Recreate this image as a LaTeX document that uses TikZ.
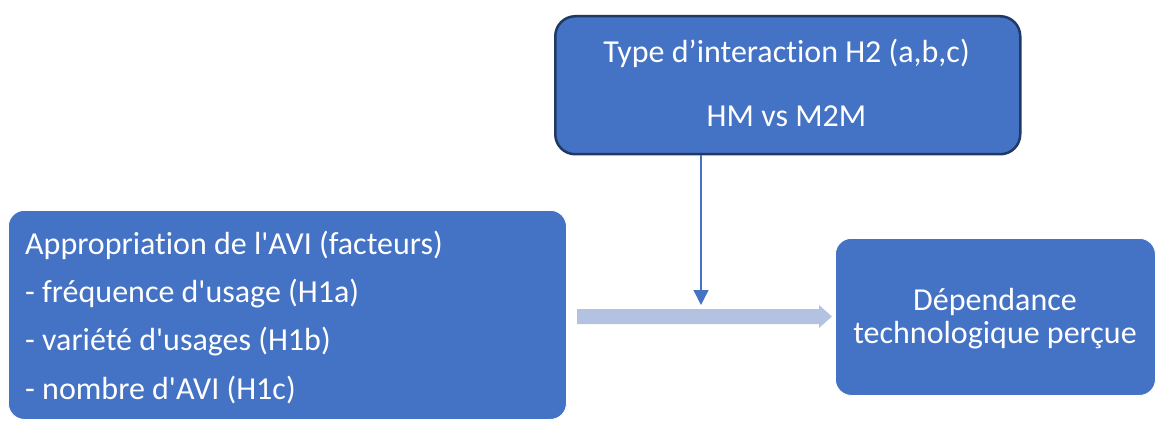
\documentclass[tikz,border=0pt]{standalone}
\usepackage{fontspec}
\setmainfont{Carlito}[Ligatures=TeXOff,RawFeature={-liga;-clig;-calt}]
\usetikzlibrary{arrows.meta,calc}
\definecolor{boxblue}{HTML}{4472C4}
\definecolor{boxedge}{HTML}{203864}
\definecolor{flowgrey}{HTML}{B4C2E2}
\begin{document}
\begin{tikzpicture}[x=1pt,y=-1pt,
  box/.style={fill=boxblue,draw=white,line width=0.8pt,rounded corners=16pt,inner sep=0pt,anchor=north west},
  lbl/.style={text=white,font=\fontsize{32}{38}\selectfont,inner sep=0pt}]
\useasboundingbox (0,0) rectangle (1156,422);

% boxes
\node[box,draw=boxedge,line width=2.5pt,rounded corners=20pt,minimum width=465pt,minimum height=138pt] (inter) at (554,15) {};
\node[box,minimum width=558pt,minimum height=209pt] (approp) at (8,210) {};
\node[box,minimum width=320pt,minimum height=157pt] (dep) at (835,238) {};

% labels
\node[lbl,anchor=base] (i1) at (786.5,63) {Type d’interaction H2 (a,b,c)};
\node[lbl,anchor=base] (i2) at (786.5,127) {HM vs M2M};

\node[lbl,anchor=base west] (a0) at (25,254) {Appropriation de l'AVI (facteurs)};
\node[lbl,anchor=base west] (a1) at (25,302) {- fréquence d'usage (H1a)};
\node[lbl,anchor=base west] (a2) at (25,350) {- variété d'usages (H1b)};
\node[lbl,anchor=base west] (a3) at (25,399) {- nombre d'AVI (H1c)};

\node[lbl,anchor=base] (d1) at (995,310) {Dépendance};
\node[lbl,anchor=base] (d2) at (995,343) {technologique perçue};

% main flow arrow
\coordinate (fs) at (577,316.5);
\coordinate (fe) at (832,316.5);
\fill[flowgrey] ($(fs)+(0,-7.5)$) -- ($(fe)+(-13,-7.5)$) -- ($(fe)+(-13,-11.5)$) -- (fe)
  -- ($(fe)+(-13,11.5)$) -- ($(fe)+(-13,7.5)$) -- ($(fs)+(0,7.5)$) -- cycle;

% moderating arrow
\coordinate (mtip) at (701,305);
\draw[boxblue,line width=1.3pt,-{Triangle[width=15pt,length=15pt]}] (inter.south -| mtip) -- (mtip);
\end{tikzpicture}
\end{document}
